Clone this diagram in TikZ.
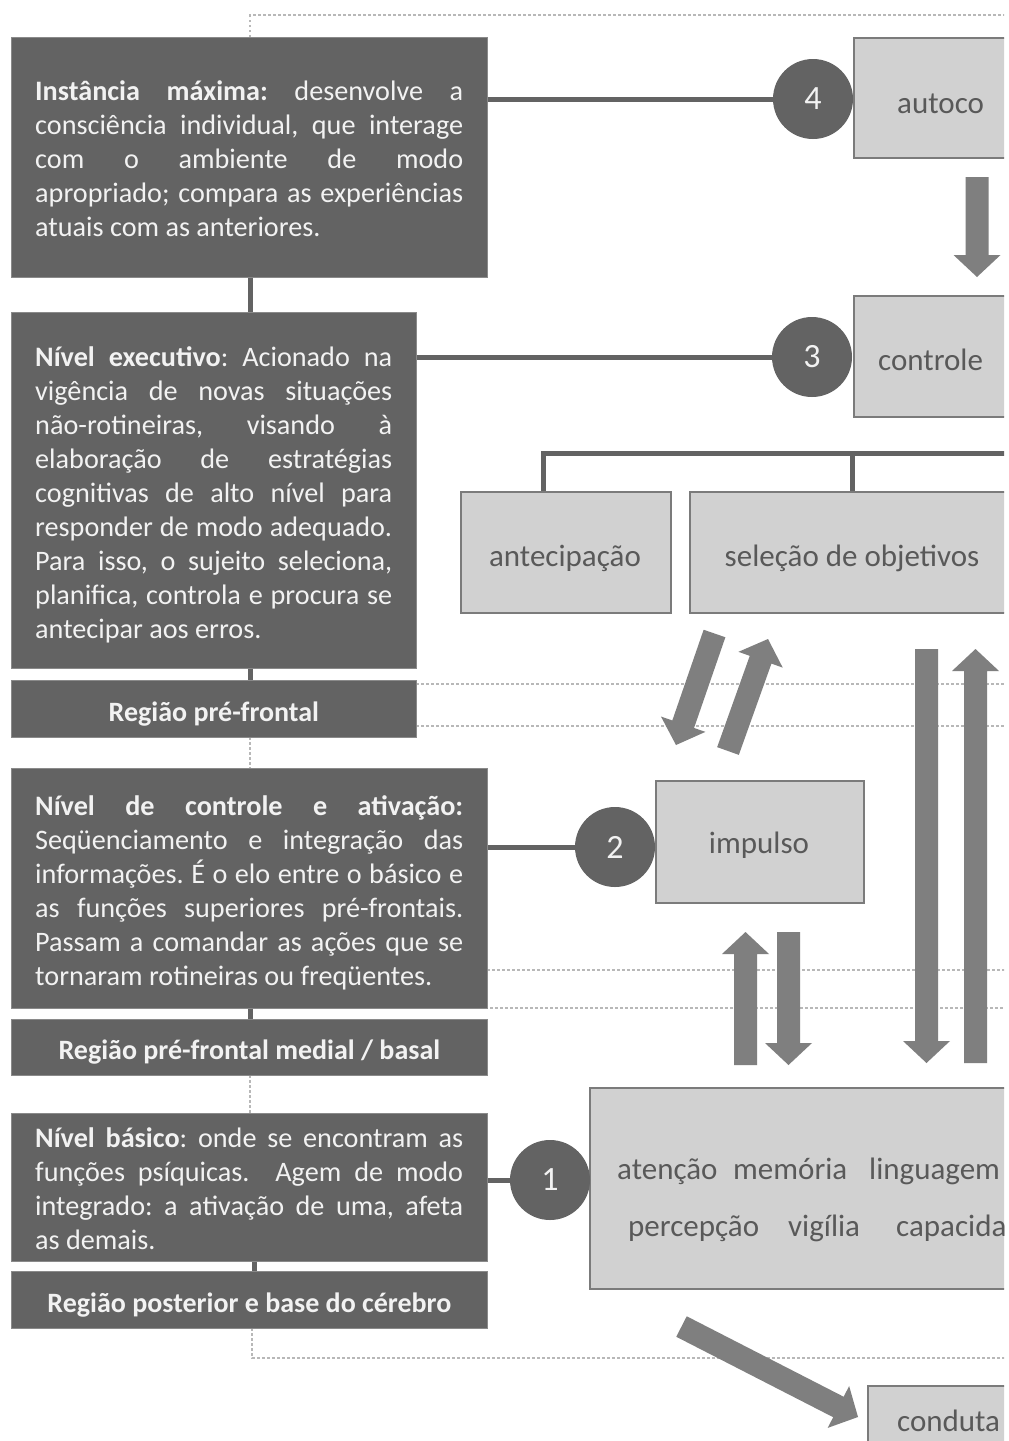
\documentclass[tikz,border=0pt]{standalone}
\usepackage{fontspec}
\setmainfont{Carlito}
\usetikzlibrary{calc}

\definecolor{boxdark}{HTML}{636363}
\definecolor{boxrim}{HTML}{8A8A8A}
\definecolor{boxlight}{HTML}{D1D1D1}
\definecolor{boxedge}{HTML}{7B7B7B}
\definecolor{arrowgray}{HTML}{7F7F7F}
\definecolor{dotgray}{HTML}{B8B8B8}
\definecolor{textgray}{HTML}{595959}
\definecolor{paper}{HTML}{F2F2F2}

% text block of fixed width whose lines are set one by one
\newcommand{\textblock}[2]{\parbox[t]{#1}{\frenchspacing\fontsize{28.2pt}{34pt}\selectfont #2}}
% one justified line / one ragged closing line of a text block
\newcommand{\justl}[1]{\noindent\makebox[\linewidth][s]{#1}\par}
\newcommand{\lastl}[1]{\noindent #1\par}

% block arrow sizes
\newcommand{\arrshaft}{11.5pt}
\newcommand{\arrhead}{23.5pt}
\newcommand{\arrlen}{22pt}
% filled block arrow from a tail coordinate to a tip coordinate
\newcommand{\blockarrow}[2]{%
  \path ($(#2)!\arrlen!(#1)$) coordinate (hb);
  \fill[arrowgray] ($(#1)!\arrshaft!90:(#2)$) -- ($(hb)!\arrshaft!90:(#2)$)
    -- ($(hb)!\arrhead!90:(#2)$) -- (#2) -- ($(hb)!\arrhead!-90:(#2)$)
    -- ($(hb)!\arrshaft!-90:(#2)$) -- ($(#1)!\arrshaft!-90:(#2)$) -- cycle;}

\begin{document}
\begin{tikzpicture}[x=1pt,y=-1pt,
  darkbox/.style={anchor=north west, fill=boxdark, draw=boxrim, line width=0.8pt,
    inner sep=0pt},
  blocktext/.style={anchor=base west, text=paper, inner sep=0pt},
  regionbox/.style={anchor=north west, fill=boxdark, draw=boxrim, line width=0.8pt,
    text=paper, inner sep=0pt, text height=25pt, text depth=0pt,
    font=\fontsize{28pt}{34pt}\selectfont\bfseries},
  lightbox/.style={anchor=north west, fill=boxlight, draw=boxedge, line width=1.5pt,
    inner sep=0pt},
  boxlabel/.style={text=textgray, inner sep=0pt, font=\fontsize{31pt}{36pt}\selectfont},
  badge/.style={circle, fill=boxdark, text=paper, minimum size=80pt, inner sep=0pt,
    font=\fontsize{34pt}{34pt}\selectfont},
  link/.style={draw=boxdark, line width=5pt},
  band/.style={draw=dotgray, line width=2.5pt, dash pattern=on 2.5pt off 2.5pt},
]
\useasboundingbox (0,0) rectangle (1009,1441);
\fill[white] (0,0) rectangle (1009,1441);

\begin{scope}
\clip (0,0) rectangle (1004,1441);

% dotted band outlines
\coordinate (bandTL) at (250,15);
\coordinate (bandTR) at (1010,15);
\coordinate (bandBL) at (252,1358);
\coordinate (bandBR) at (1010,1358);
\draw[band] (250,37) -- (bandTL) -- (bandTR);
\draw[band] (252,1328) -- (bandBL) -- (bandBR);
\draw[band] (250,737) -- (250,768);
\draw[band] (250,1075) -- (250,1113);
\draw[band] (416,684) -- (1010,684);
\draw[band] (416,726) -- (1010,726);
\draw[band] (487,970) -- (1010,970);
\draw[band] (250,1008) -- (1010,1008);

% spine of the left column
\coordinate (spine) at (250,0);
\coordinate (spineb) at (254,0);

% left column: levels and regions
\node[darkbox, minimum width=476pt, minimum height=240pt] (lvl4) at (11,37) {};
\node[blocktext] (txt4) at (35,100) {\textblock{428pt}{%
  \justl{\textbf{Instância máxima:} desenvolve a}
  \justl{consciência individual, que interage}
  \justl{com o ambiente de modo}
  \justl{apropriado; compara as experiências}
  \lastl{atuais com as anteriores.}}};

\node[darkbox, minimum width=405pt, minimum height=356pt] (lvl3) at (11,312) {};
\node[blocktext] (txt3) at (35,366) {\textblock{357pt}{%
  \justl{\textbf{Nível executivo}: Acionado na}
  \justl{vigência de novas situações}
  \justl{não-rotineiras, visando à}
  \justl{elaboração de estratégias}
  \justl{cognitivas de alto nível para}
  \justl{responder de modo adequado.}
  \justl{Para isso, o sujeito seleciona,}
  \justl{planifica, controla e procura se}
  \lastl{antecipar aos erros.}}};

\node[regionbox, minimum width=405pt, minimum height=57pt] (rpf) at (11,680) {Região pré-frontal};

\node[darkbox, minimum width=476pt, minimum height=240pt] (lvl2) at (11,768) {};
\node[blocktext] (txt2) at (35,815) {\textblock{428pt}{%
  \justl{\textbf{Nível de controle e ativação:}}
  \justl{Seqüenciamento e integração das}
  \justl{informações. É o elo entre o básico e}
  \justl{as funções superiores pré-frontais.}
  \justl{Passam a comandar as ações que se}
  \lastl{tornaram rotineiras ou freqüentes.}}};

\node[regionbox, minimum width=476pt, minimum height=56pt] (rmed) at (11,1019) {Região pré-frontal medial / basal};

\node[darkbox, minimum width=476pt, minimum height=148pt] (lvl1) at (11,1113) {};
\node[blocktext] (txt1) at (35,1147) {\textblock{428pt}{%
  \justl{\textbf{Nível básico}: onde se encontram as}
  \justl{funções psíquicas.\ \ Agem de modo}
  \justl{integrado: a ativação de uma, afeta}
  \lastl{as demais.}}};

\node[regionbox, minimum width=476pt, minimum height=57pt] (rpost) at (11,1271) {Região posterior e base do cérebro};

\draw[link] (lvl4.south -| spine) -- (lvl3.north -| spine);
\draw[link] (lvl3.south -| spine) -- (rpf.north -| spine);
\draw[link] (lvl2.south -| spine) -- (rmed.north -| spine);
\draw[link] (lvl1.south -| spineb) -- (rpost.north -| spineb);

% right column: functions
\node[lightbox, minimum width=175pt, minimum height=120pt] (auto) at (853,37) {};
\node[lightbox, minimum width=175pt, minimum height=121pt] (ctrl) at (853,295) {};
\node[lightbox, minimum width=210pt, minimum height=121pt] (ant) at (460,491) {};
\node[lightbox, minimum width=326pt, minimum height=121pt] (sel) at (689,491) {};
\node[lightbox, minimum width=208pt, minimum height=122pt] (imp) at (655,780) {};
\node[lightbox, minimum width=440pt, minimum height=201pt] (base) at (589,1087) {};
\node[lightbox, minimum width=160pt, minimum height=80pt] (cond) at (867,1385) {};

\node[boxlabel, anchor=base west] (tauto) at (897,113) {autoco};
\node[boxlabel, anchor=base west] (tctrl) at (878,370) {controle};
\node[boxlabel, anchor=base] (tant) at (565,566) {antecipação};
\node[boxlabel, anchor=base] (tsel) at (852,566) {seleção de objetivos};
\node[boxlabel, anchor=base] (timp) at (759,853) {impulso};
\node[boxlabel, anchor=base west] (tat) at (617,1179) {atenção};
\node[boxlabel, anchor=base west] (tmem) at (733,1179) {memória};
\node[boxlabel, anchor=base west] (tlin) at (869,1179) {linguagem};
\node[boxlabel, anchor=base west] (tper) at (628,1236) {percepção};
\node[boxlabel, anchor=base west] (tvig) at (788,1236) {vigília};
\node[boxlabel, anchor=base west] (tcap) at (896,1236) {capacida};
\node[boxlabel, anchor=base west] (tcond) at (897,1431) {conduta};

% bracket joining the executive functions
\coordinate (brkL) at (543,453);
\coordinate (brkR) at (1010,453);
\draw[link] (brkL |- ant.north) -- (brkL) -- (brkR);
\draw[link] (sel.north) -- (sel.north |- brkL);

% level badges and their links
\node[badge] (n4) at (813,99) {4};
\node[badge] (n3) at (812,357) {3};
\node[badge] (n2) at (615,847) {2};
\node[badge] (n1) at (550,1180) {1};
\draw[link] (lvl4.east |- n4) -- (n4);
\draw[link] (lvl3.east |- n3) -- (n3);
\draw[link] (lvl2.east |- n2) -- (n2);
\draw[link] (lvl1.east |- n1) -- (n1);

% flow arrows
\coordinate (a1t) at (977,177);     \coordinate (a1h) at (977,277);
\coordinate (a2t) at (714.5,633.5); \coordinate (a2h) at (676,745);
\coordinate (a3t) at (728,751);     \coordinate (a3h) at (768,639);
\coordinate (a4t) at (745.5,1065);  \coordinate (a4h) at (745.5,932);
\coordinate (a5t) at (788.5,932);   \coordinate (a5h) at (788.5,1065);
\coordinate (a6t) at (926.5,649);   \coordinate (a6h) at (926.5,1063);
\coordinate (a7t) at (975.5,1063);  \coordinate (a7h) at (975.5,649);
\coordinate (a8t) at (681.5,1326.5);\coordinate (a8h) at (858,1417);
\blockarrow{a1t}{a1h}
\blockarrow{a2t}{a2h}
\blockarrow{a3t}{a3h}
\blockarrow{a4t}{a4h}
\blockarrow{a5t}{a5h}
\blockarrow{a6t}{a6h}
\blockarrow{a7t}{a7h}
\blockarrow{a8t}{a8h}
\end{scope}
\end{tikzpicture}
\end{document}
